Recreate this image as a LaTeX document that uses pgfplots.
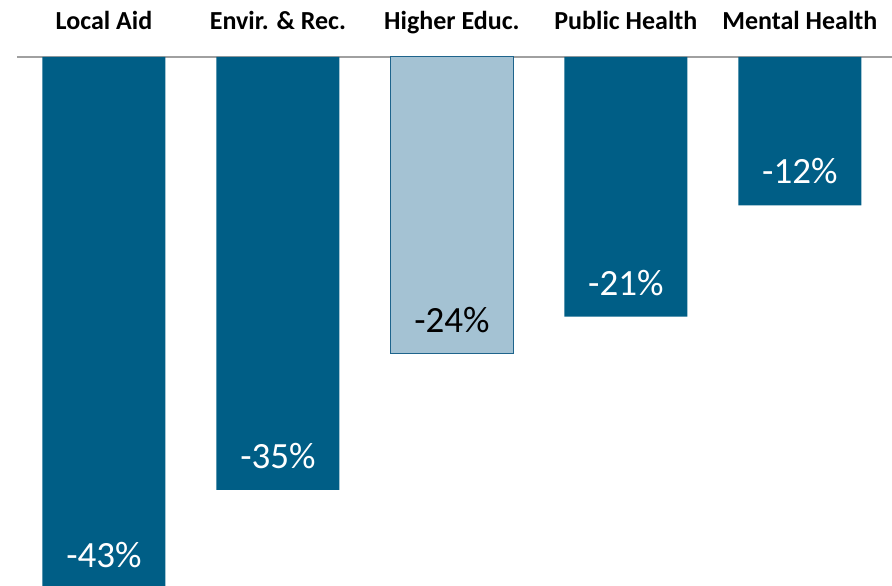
\documentclass[border=0pt]{standalone}
\usepackage{pgfplots}
\pgfplotsset{compat=1.18}
\usepackage{fontspec}
\setmainfont{Carlito}
\definecolor{darkbar}{RGB}{0,94,134}
\definecolor{lightbar}{RGB}{164,194,211}
\definecolor{lightedge}{RGB}{30,100,140}
\definecolor{axisgray}{RGB}{160,160,160}
\begin{document}
\begin{tikzpicture}
\begin{axis}[
  scale only axis,
  width=437.5pt, height=264pt,
  xmin=-0.5, xmax=4.53,
  ymin=-42.7, ymax=0,
  axis line style={draw=none},
  ytick=\empty,
  xtick={0,1,2,3,4},
  xticklabels={Local Aid, Envir. \& Rec., Higher Educ., Public Health, Mental Health},
  xticklabel pos=upper,
  major tick length=0pt,
  xticklabel style={font=\bfseries\fontsize{13}{15}\selectfont, anchor=base, yshift=13.5pt, text=black},
  clip=false,
  bar width=0.707,
  point meta=explicit symbolic,
  nodes near coords,
  nodes near coords style={font=\fontsize{18.5}{20}\selectfont},
]
\draw[axisgray, line width=0.8pt] (rel axis cs:0,1) -- (rel axis cs:1,1);
\addplot[ybar, bar shift=0pt, fill=darkbar, draw=none,
  every node near coord/.append style={text=white, anchor=center, yshift=17pt}]
  coordinates {(0,-43) [-43\%] (1,-35) [-35\%] (3,-21) [-21\%] (4,-12) [-12\%]};
\addplot[ybar, bar shift=0pt, fill=lightbar, draw=lightedge, line width=0.5pt,
  every node near coord/.append style={text=black, anchor=center, yshift=17pt}]
  coordinates {(2,-24) [-24\%]};
\coordinate (sw) at (rel axis cs:0,0);
\coordinate (ne) at (rel axis cs:1,1);
\end{axis}
\pgfresetboundingbox
\path[use as bounding box] ([xshift=-8.5pt]sw) rectangle ([yshift=28.5pt]ne);
\end{tikzpicture}
\end{document}
